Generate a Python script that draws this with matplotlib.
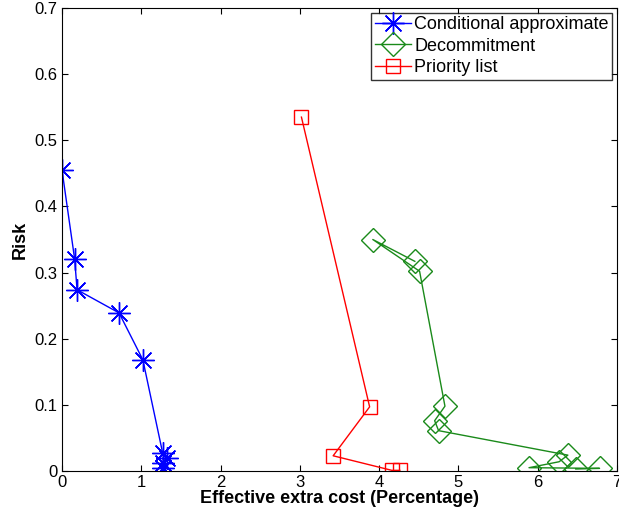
import matplotlib
matplotlib.use("Agg")
import matplotlib.pyplot as plt

plt.rcParams['font.family'] = ['Liberation Sans', 'DejaVu Sans']

ca_x = [0.0, 0.16, 0.19, 0.72, 1.02, 1.27, 1.32, 1.27, 1.27]
ca_y = [0.455, 0.320, 0.274, 0.239, 0.168, 0.027, 0.020, 0.012, 0.004]

dc_x = [4.45, 3.92, 4.51, 4.83, 4.70, 4.75, 6.38, 6.27, 5.89, 6.78, 6.48]
dc_y = [0.317, 0.350, 0.302, 0.098, 0.076, 0.061, 0.024, 0.014, 0.005, 0.004, 0.003]

pl_x = [3.02, 3.88, 3.42, 4.16, 4.26]
pl_y = [0.535, 0.097, 0.023, 0.001, 0.001]

fig = plt.figure(figsize=(6.19, 5.14), dpi=100)
ax = fig.add_axes([62/619, (514-471)/514, (617-62)/619, (471-8)/514])

ax.plot(ca_x, ca_y, color='blue', marker=(8, 2, 0), markersize=16, markeredgewidth=1.0,
        linewidth=1.0, label='Conditional approximate')
ax.plot(dc_x, dc_y, color='#1a8a1a', marker='D', markersize=12.5, markerfacecolor='none',
        markeredgewidth=1.0, linewidth=1.0, label='Decommitment')
ax.plot(pl_x, pl_y, color='red', marker='s', markersize=10.5, markerfacecolor='none',
        markeredgewidth=1.0, linewidth=1.0, label='Priority list')

ax.set_xlim(0, 7)
ax.set_ylim(0, 0.7)
ax.set_xticks(range(0, 8))
ax.set_yticks([0, 0.1, 0.2, 0.3, 0.4, 0.5, 0.6, 0.7])
ax.set_yticklabels(['0', '0.1', '0.2', '0.3', '0.4', '0.5', '0.6', '0.7'])
ax.tick_params(direction='in', top=True, right=True, labelsize=12, length=4, pad=3)
ax.set_xlabel('Effective extra cost (Percentage)', fontsize=13, fontweight='bold', labelpad=0)
ax.set_ylabel('Risk', fontsize=13, fontweight='bold', labelpad=4)

leg = ax.legend(loc='upper right', fontsize=13, frameon=True, fancybox=False,
                edgecolor='black', borderpad=0.2, labelspacing=0.25, handlelength=2.0,
                handletextpad=0.2, borderaxespad=0.25)
leg.get_frame().set_linewidth(1.0)

fig.savefig('out.png', dpi=100)
